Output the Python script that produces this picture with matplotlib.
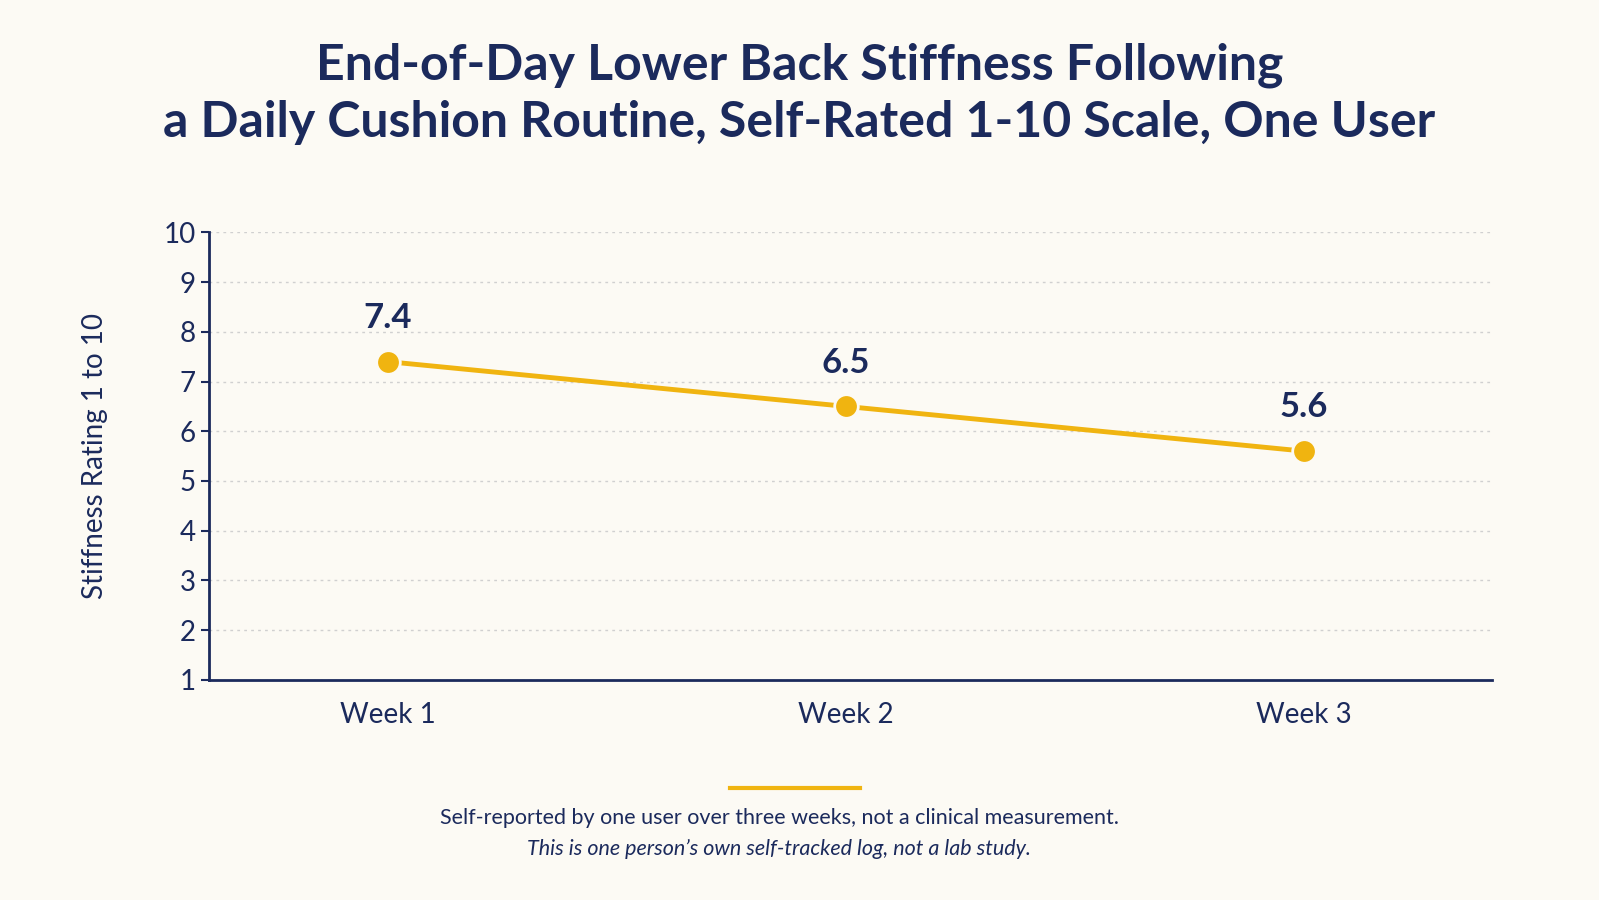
import matplotlib.pyplot as plt
from matplotlib.lines import Line2D

# Data
weeks = ["Week 1", "Week 2", "Week 3"]
stiffness = [7.4, 6.5, 5.6]
y_ticks = list(range(1, 11))

navy = "#1b2a5c"
gold = "#f0b410"
bg = "#fcfaf4"

plt.rcParams['font.family'] = ['Lato', 'DejaVu Sans']

W, H = 1568, 883  # reference measured at this display size
fig = plt.figure(figsize=(15.99, 9), dpi=100, facecolor=bg)
ax = fig.add_axes([205 / W, 1 - 667 / H, 1258 / W, 439 / H], facecolor=bg)

x = list(range(len(weeks)))
ax.plot(x, stiffness, color=gold, lw=3.5, marker='o', ms=17,
        markeredgecolor=bg, markeredgewidth=2, zorder=3)
for xi, v in zip(x, stiffness):
    ax.annotate(f"{v}", (xi, v), xytext=(0, 20), textcoords="offset points",
                ha="center", va="bottom", fontsize=25, fontweight="bold", color=navy)

ax.set_xlim(-0.39, 2.41)
ax.set_ylim(1, 10)
ax.set_yticks(y_ticks)
ax.set_xticks(x)
ax.set_xticklabels(weeks)
ax.tick_params(axis='both', colors=navy, labelsize=20, length=6, width=1.5)
ax.tick_params(axis='x', length=0, pad=16)
ax.grid(axis='y', color="#d0d0d0", ls=(0, (2, 3)), lw=1)
for s in ["top", "right"]:
    ax.spines[s].set_visible(False)
for s in ["left", "bottom"]:
    ax.spines[s].set_color(navy)
    ax.spines[s].set_linewidth(2)
ax.set_ylabel("Stiffness Rating 1 to 10", fontsize=20, color=navy, labelpad=40)

fig.text(0.5, 1 - 92 / H, "End-of-Day Lower Back Stiffness Following\na Daily Cushion Routine, Self-Rated 1-10 Scale, One User",
         ha="center", va="center", fontsize=36, fontweight="bold", color=navy, linespacing=1.3)

fig.add_artist(Line2D([716 / W, 843 / W], [1 - 773 / H] * 2, color=gold, lw=3))
fig.text(764 / W, 1 - 803 / H, "Self-reported by one user over three weeks, not a clinical measurement.",
         ha="center", va="center", fontsize=15.5, color=navy)
fig.text(764 / W, 1 - 833 / H, "This is one person\u2019s own self-tracked log, not a lab study.",
         ha="center", va="center", fontsize=15.5, color=navy, style="italic")

fig.savefig("out.png", dpi=100, facecolor=bg)
